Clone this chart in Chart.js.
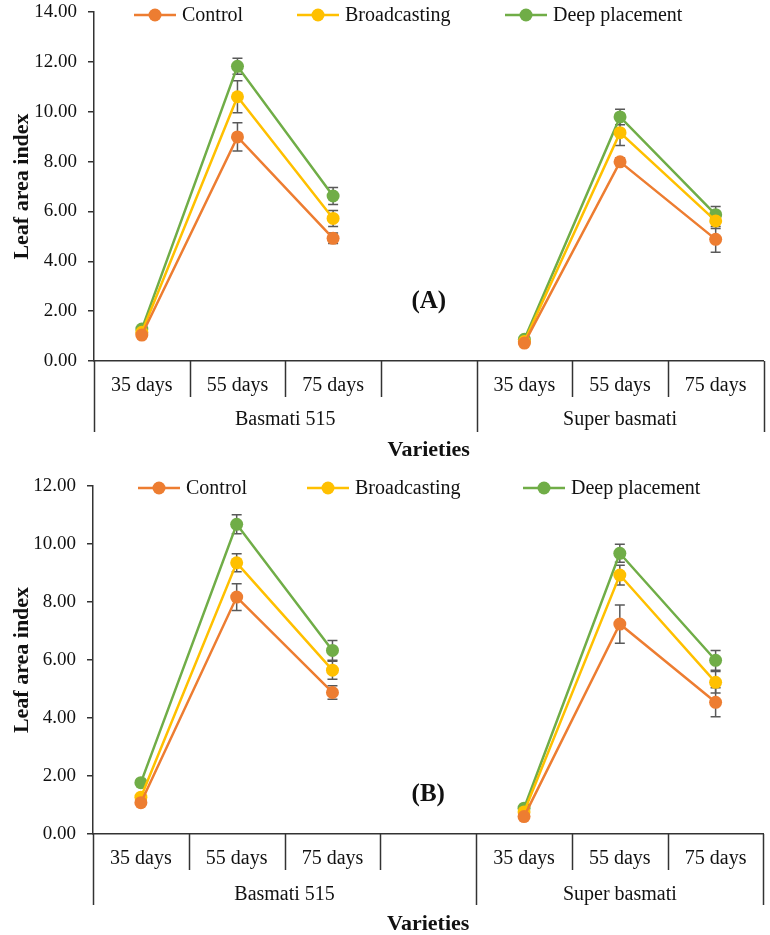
<!DOCTYPE html>
<html>
<head>
<meta charset="utf-8">
<script src="https://cdn.jsdelivr.net/npm/chart.js@4.4.1/dist/chart.umd.min.js"></script>
<style>
  body { margin: 0; background: #fff; }
  .panel { position: absolute; left: 0; }
</style>
</head>
<body>
<div class="panel" style="top:0"><canvas id="chartA" width="770" height="468"></canvas></div>
<div class="panel" style="top:468px"><canvas id="chartB" width="770" height="467"></canvas></div>
<script>
// categories and grouping of the x axis
const categories = ['35 days', '55 days', '75 days', '', '35 days', '55 days', '75 days'];
const varieties = ['Basmati 515', 'Super basmati'];
const varietySpans = [[0, 3], [4, 6]]; // first and last category index of each variety
const seriesNames = ['Control', 'Broadcasting', 'Deep placement'];
const seriesColors = ['#ED7D31', '#FFC000', '#70AD47'];

// Panel (A) - leaf area index
const controlA = [1.04, 8.99, 4.92, null, 0.72, 7.99, 4.88];
const broadcastA = [1.15, 10.60, 5.72, null, 0.78, 9.16, 5.62];
const deepA = [1.28, 11.82, 6.62, null, 0.87, 9.79, 5.87];
const controlErrA = [0.05, 0.57, 0.21, null, 0.05, 0.15, 0.52];
const broadcastErrA = [0.05, 0.64, 0.32, null, 0.05, 0.52, 0.30];
const deepErrA = [0.05, 0.32, 0.34, null, 0.05, 0.31, 0.33];

// Panel (B) - leaf area index
const controlB = [1.08, 8.17, 4.88, null, 0.60, 7.24, 4.54];
const broadcastB = [1.27, 9.35, 5.65, null, 0.76, 8.93, 5.23];
const deepB = [1.77, 10.68, 6.33, null, 0.89, 9.68, 5.99];
const controlErrB = [0.05, 0.46, 0.23, null, 0.05, 0.66, 0.50];
const broadcastErrB = [0.05, 0.31, 0.31, null, 0.05, 0.34, 0.37];
const deepErrB = [0.05, 0.33, 0.34, null, 0.05, 0.31, 0.34];

const yTicksA = { max: 14, step: 2 };
const yTicksB = { max: 12, step: 2 };

const FONT = "'Liberation Serif', 'Times New Roman', serif";
const AXIS_COLOR = '#333';

// error bars, grouped category axis, legend and panel letter
const panelDecor = {
  id: 'panelDecor',
  beforeDatasetsDraw(chart) {
    const ctx = chart.ctx, x = chart.scales.x, y = chart.scales.y;
    ctx.save();
    ctx.strokeStyle = '#595959';
    ctx.lineWidth = 1.5;
    chart.data.datasets.forEach(ds => {
      ds.errors.forEach((e, i) => {
        const v = ds.data[i];
        if (v == null || e == null) return;
        const px = x.getPixelForValue(i);
        const top = y.getPixelForValue(v + e), bot = y.getPixelForValue(v - e);
        ctx.beginPath();
        ctx.moveTo(px, top); ctx.lineTo(px, bot);
        ctx.moveTo(px - 5, top); ctx.lineTo(px + 5, top);
        ctx.moveTo(px - 5, bot); ctx.lineTo(px + 5, bot);
        ctx.stroke();
      });
    });
    ctx.restore();
  },
  afterDraw(chart, args, opts) {
    const ctx = chart.ctx, x = chart.scales.x, y = chart.scales.y;
    const bottom = chart.chartArea.bottom;
    const w = x.getPixelForValue(1) - x.getPixelForValue(0);
    const edge = k => x.getPixelForValue(0) + (k - 0.5) * w;
    const longEdges = new Set();
    varietySpans.forEach(s => { longEdges.add(s[0]); longEdges.add(s[1] + 1); });

    ctx.save();
    ctx.strokeStyle = AXIS_COLOR;
    ctx.lineWidth = 1.5;
    for (let k = 0; k <= categories.length; k++) {
      const px = Math.round(edge(k)) + 0.5;
      ctx.beginPath();
      ctx.moveTo(px, bottom);
      ctx.lineTo(px, bottom + (longEdges.has(k) ? 71 : 36));
      ctx.stroke();
    }
    ctx.fillStyle = '#111';
    ctx.textAlign = 'center';
    ctx.textBaseline = 'middle';
    ctx.font = '20px ' + FONT;
    categories.forEach((c, i) => ctx.fillText(c, x.getPixelForValue(i), bottom + 25));
    varieties.forEach((v, g) => {
      const cx = (edge(varietySpans[g][0]) + edge(varietySpans[g][1] + 1)) / 2;
      ctx.fillText(v, cx, bottom + opts.groupOffset);
    });

    // legend
    ctx.textAlign = 'left';
    chart.data.datasets.forEach((ds, i) => {
      const lx = opts.legendX[i], ly = opts.legendY;
      ctx.strokeStyle = ds.borderColor;
      ctx.lineWidth = 2.5;
      ctx.beginPath(); ctx.moveTo(lx, ly); ctx.lineTo(lx + 42, ly); ctx.stroke();
      ctx.fillStyle = ds.backgroundColor;
      ctx.beginPath(); ctx.arc(lx + 21, ly, 6.5, 0, Math.PI * 2); ctx.fill();
      ctx.fillStyle = '#111';
      ctx.fillText(ds.label, lx + 48, ly + 1);
    });

    // panel letter
    ctx.textAlign = 'center';
    ctx.font = 'bold 25px ' + FONT;
    ctx.fillText(opts.letter, x.getPixelForValue(opts.letterAt[0]), y.getPixelForValue(opts.letterAt[1]));
    ctx.restore();
  }
};

function makeChart(id, values, errors, ticks, layout) {
  const ctx = document.getElementById(id).getContext('2d');
  return new Chart(ctx, {
    type: 'line',
    data: {
      labels: categories,
      datasets: seriesNames.map((name, i) => ({
        label: name,
        data: values[i],
        errors: errors[i],
        borderColor: seriesColors[i],
        backgroundColor: seriesColors[i],
        borderWidth: 2.5,
        pointRadius: 6.5,
        pointHoverRadius: 6.5,
        pointBorderWidth: 0,
        tension: 0,
        spanGaps: false
      }))
    },
    options: {
      responsive: false,
      animation: false,
      devicePixelRatio: 1,
      layout: { padding: { top: layout.top, right: 5, left: 0, bottom: 0 } },
      plugins: {
        legend: { display: false },
        tooltip: { enabled: false },
        panelDecor: layout.decor
      },
      scales: {
        x: {
          offset: true,
          grid: { display: false },
          border: { display: true, color: AXIS_COLOR, width: 1.5 },
          ticks: { display: false },
          title: {
            display: true, text: 'Varieties', color: '#111',
            font: { family: FONT, size: 22, weight: 'bold' },
            padding: { top: 0, bottom: layout.titlePad }
          },
          afterFit(scale) {
            scale.height = layout.xHeight;
            scale.paddingLeft = 0; scale.paddingRight = 0;
          }
        },
        y: {
          min: 0,
          max: ticks.max,
          grid: { display: true, drawOnChartArea: false, drawTicks: true, tickLength: 6, color: AXIS_COLOR, lineWidth: 1.5 },
          border: { display: true, color: AXIS_COLOR, width: 1.5 },
          ticks: {
            stepSize: ticks.step,
            padding: 11,
            color: '#111',
            font: { family: FONT, size: 19 },
            callback: v => v.toFixed(2)
          },
          title: {
            display: true, text: 'Leaf area index', color: '#111',
            font: { family: FONT, size: 22, weight: 'bold' },
            padding: { top: 9, bottom: 0 }
          },
          afterFit(scale) {
            scale.width = layout.yWidth;
            scale.paddingTop = 0; scale.paddingBottom = 0;
          }
        }
      }
    },
    plugins: [panelDecor]
  });
}

makeChart('chartA',
  [controlA, broadcastA, deepA],
  [controlErrA, broadcastErrA, deepErrA],
  yTicksA,
  { top: 12, xHeight: 107, yWidth: 94, titlePad: 4,
    decor: { legendX: [134, 297, 505], legendY: 15, groupOffset: 59, letter: '(A)', letterAt: [3, 2.4] } });

makeChart('chartB',
  [controlB, broadcastB, deepB],
  [controlErrB, broadcastErrB, deepErrB],
  yTicksB,
  { top: 18, xHeight: 101, yWidth: 93, titlePad: -3,
    decor: { legendX: [138, 307, 523], legendY: 20, groupOffset: 61, letter: '(B)', letterAt: [3, 1.35] } });
</script>
</body>
</html>
